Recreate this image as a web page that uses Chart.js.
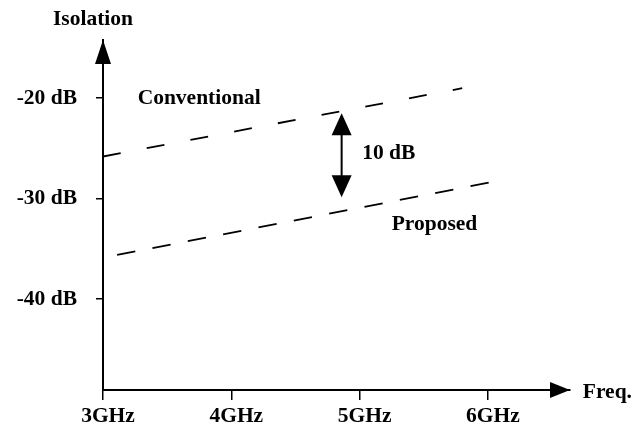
<!DOCTYPE html>
<html>
<head>
<meta charset="utf-8">
<script src="https://cdn.jsdelivr.net/npm/chart.js@4.4.0/dist/chart.umd.min.js"></script>
<style>
  html, body { margin: 0; padding: 0; background: #fff; }
</style>
</head>
<body>
<canvas id="isoChart" width="642" height="434"></canvas>
<script>
const freqTicks = [3, 4, 5, 6];
const freqLabels = ["3GHz", "4GHz", "5GHz", "6GHz"];
const dbTicks = [-20, -30, -40];
const dbLabels = ["-20 dB", "-30 dB", "-40 dB"];

// end points of the two dashed trends (GHz, dB)
const conventionalFreq = [3.0, 5.8];
const conventionalDb = [-25.8, -19.0];
const proposedFreq = [3.11, 6.01];
const proposedDb = [-35.6, -28.4];

// the 10 dB gap marker
const gapFreq = 4.86;
const gapDb = [-21.5, -29.85];

const FONT = 'bold 21.5px "Liberation Serif", "DejaVu Serif", serif';

const toPoints = (xs, ys) => xs.map((x, i) => ({ x: x, y: ys[i] }));

function tri(ctx, pts) {
  ctx.beginPath();
  ctx.moveTo(pts[0][0], pts[0][1]);
  ctx.lineTo(pts[1][0], pts[1][1]);
  ctx.lineTo(pts[2][0], pts[2][1]);
  ctx.closePath();
  ctx.fill();
}

const sketchPlugin = {
  id: "sketch",
  afterDraw(chart) {
    const { ctx, chartArea: a, scales } = chart;
    const x = scales.x, y = scales.y;
    ctx.save();
    ctx.fillStyle = "#000";
    ctx.strokeStyle = "#000";

    // axis arrow heads
    tri(ctx, [[a.left, a.top], [a.left - 8, a.top + 24], [a.left + 8, a.top + 24]]);
    tri(ctx, [[a.right, a.bottom], [a.right - 20, a.bottom - 8], [a.right - 20, a.bottom + 8]]);

    // double arrow between the curves
    const gx = x.getPixelForValue(gapFreq);
    const gt = y.getPixelForValue(gapDb[0]);
    const gb = y.getPixelForValue(gapDb[1]);
    ctx.lineWidth = 2;
    ctx.beginPath();
    ctx.moveTo(gx, gt + 10);
    ctx.lineTo(gx, gb - 10);
    ctx.stroke();
    tri(ctx, [[gx, gt], [gx - 10, gt + 22], [gx + 10, gt + 22]]);
    tri(ctx, [[gx, gb], [gx - 10, gb - 22], [gx + 10, gb - 22]]);

    // text labels
    ctx.font = FONT;
    ctx.textAlign = "left";
    ctx.textBaseline = "middle";
    ctx.fillText("Isolation", x.getPixelForValue(2.61), y.getPixelForValue(-12.2));
    ctx.fillText("Conventional", x.getPixelForValue(3.27), y.getPixelForValue(-20.05));
    ctx.fillText("10 dB", x.getPixelForValue(5.02), y.getPixelForValue(-25.5));
    ctx.fillText("Proposed", x.getPixelForValue(5.25), y.getPixelForValue(-32.6));
    ctx.fillText("Freq.", x.getPixelForValue(6.74), y.getPixelForValue(-49.25));
    ctx.restore();
  }
};

const lineStyle = {
  showLine: true,
  borderColor: "#000",
  borderWidth: 1.8,
  pointRadius: 0,
  fill: false
};

new Chart(document.getElementById("isoChart"), {
  type: "scatter",
  data: {
    datasets: [
      Object.assign({ label: "Conventional", data: toPoints(conventionalFreq, conventionalDb), borderDash: [18, 26.5] }, lineStyle),
      Object.assign({ label: "Proposed", data: toPoints(proposedFreq, proposedDb), borderDash: [18.5, 17.5] }, lineStyle)
    ]
  },
  options: {
    responsive: false,
    animation: false,
    layout: { padding: { top: 40, right: 72, left: 0, bottom: 0 } },
    plugins: { legend: { display: false }, tooltip: { enabled: false } },
    scales: {
      x: {
        type: "linear",
        min: 3,
        max: 6.64,
        border: { display: true, color: "#000", width: 2 },
        grid: { drawOnChartArea: false, drawTicks: true, tickLength: 10, color: "#000", lineWidth: 1.5 },
        afterBuildTicks: (s) => { s.ticks = freqTicks.map((v) => ({ value: v })); },
        afterFit: (s) => { s.height = 44; },
        ticks: {
          callback: (v) => freqLabels[freqTicks.indexOf(v)],
          font: { family: '"Liberation Serif"', size: 21.5, weight: "bold" },
          color: "#000",
          padding: 4,
          labelOffset: 5,
          maxRotation: 0,
          autoSkip: false
        }
      },
      y: {
        type: "linear",
        min: -49.05,
        max: -14.2,
        border: { display: true, color: "#000", width: 2 },
        grid: { drawOnChartArea: false, drawTicks: true, tickLength: 7, color: "#000", lineWidth: 1.5 },
        afterBuildTicks: (s) => { s.ticks = dbTicks.map((v) => ({ value: v })); },
        afterFit: (s) => { s.width = 103; },
        ticks: {
          callback: (v) => dbLabels[dbTicks.indexOf(v)],
          font: { family: '"Liberation Serif"', size: 21.5, weight: "bold" },
          color: "#000",
          padding: 19
        }
      }
    }
  },
  plugins: [sketchPlugin]
});
</script>
</body>
</html>
